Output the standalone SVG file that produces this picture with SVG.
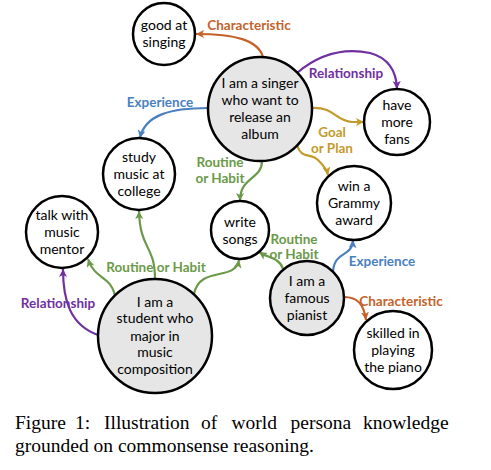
<svg xmlns="http://www.w3.org/2000/svg" width="491" height="470" viewBox="0 0 491 470">
<style>
.node{stroke:#000;stroke-width:2.5;fill:#fff}
.gray{fill:#e6e6e6}
.nt{font-family:Lato,"Liberation Sans",sans-serif;font-size:14px;fill:#000;text-anchor:middle}
.lb{font-family:Lato,"Liberation Sans",sans-serif;font-size:13.5px;font-weight:bold;text-anchor:middle}
.e{fill:none;stroke-width:2.2}
.or{stroke:#c5622a}.pu{stroke:#7030a0}.bl{stroke:#4a7fc0}.go{stroke:#c49a2a}.gr{stroke:#6a9a48}
.cap{font-family:"Liberation Serif","Times New Roman",serif;font-size:19.5px;fill:#000}
</style>
<defs>
<marker id="aor" markerUnits="userSpaceOnUse" markerWidth="10" markerHeight="10" refX="8" refY="4" orient="auto"><path d="M0,0 L8,4 L0,8 L2,4 z" fill="#c5622a"/></marker>
<marker id="apu" markerUnits="userSpaceOnUse" markerWidth="10" markerHeight="10" refX="8" refY="4" orient="auto"><path d="M0,0 L8,4 L0,8 L2,4 z" fill="#7030a0"/></marker>
<marker id="abl" markerUnits="userSpaceOnUse" markerWidth="10" markerHeight="10" refX="8" refY="4" orient="auto"><path d="M0,0 L8,4 L0,8 L2,4 z" fill="#4a7fc0"/></marker>
<marker id="ago" markerUnits="userSpaceOnUse" markerWidth="10" markerHeight="10" refX="8" refY="4" orient="auto"><path d="M0,0 L8,4 L0,8 L2,4 z" fill="#c49a2a"/></marker>
<marker id="agr" markerUnits="userSpaceOnUse" markerWidth="10" markerHeight="10" refX="8" refY="4" orient="auto"><path d="M0,0 L8,4 L0,8 L2,4 z" fill="#6a9a48"/></marker>
</defs>
<g id="connectors">
<path class="e or" d="M263,57 C258,40 235,34 196,34" marker-end="url(#aor)"/>
<path class="e pu" d="M297,73 Q330,45 370,53 Q396,60 397,89" marker-end="url(#apu)"/>
<path class="e go" d="M312,108 C335,107 335,121 352,122 L364,122" marker-end="url(#ago)"/>
<path class="e go" d="M297,145 C302,160 310,152 318,160 C324,166 327,170 328,175" marker-end="url(#ago)"/>
<path class="e bl" d="M208,108 C170,108 145,115 140,138" marker-end="url(#abl)"/>
<path class="e gr" d="M262,161 C262,180 240,176 240,201" marker-end="url(#agr)"/>
<path class="e gr" d="M155,279 C155,245 140,250 139,211" marker-end="url(#agr)"/>
<path class="e gr" d="M115,295 C110,275 95,280 88,259" marker-end="url(#agr)"/>
<path class="e gr" d="M194,294 C200,265 235,282 239,260" marker-end="url(#agr)"/>
<path class="e pu" d="M98,335 C70,325 63,300 63,269" marker-end="url(#apu)"/>
<path class="e gr" d="M283,269 C280,258 268,258 259,252" marker-end="url(#agr)"/>
<path class="e bl" d="M333,271 C335,250 352,258 353,240" marker-end="url(#abl)"/>
<path class="e or" d="M344,297 C358,297 364,305 366,320" marker-end="url(#aor)"/>
<text class="lb" fill="#c5622a" x="249" y="30">Characteristic</text>
<text class="lb" fill="#7030a0" x="346" y="78">Relationship</text>
<text class="lb" fill="#4a7fc0" x="160" y="107">Experience</text>
<text class="lb" fill="#c49a2a" x="332" y="137">Goal</text>
<text class="lb" fill="#c49a2a" x="332" y="153">or Plan</text>
<text class="lb" fill="#6a9a48" x="220" y="167">Routine</text>
<text class="lb" fill="#6a9a48" x="220" y="183">or Habit</text>
<text class="lb" fill="#6a9a48" x="156" y="272">Routine or Habit</text>
<text class="lb" fill="#7030a0" x="58" y="308">Relationship</text>
<text class="lb" fill="#6a9a48" x="294" y="244">Routine</text>
<text class="lb" fill="#6a9a48" x="294" y="259">or Habit</text>
<text class="lb" fill="#4a7fc0" x="382" y="266">Experience</text>
<text class="lb" fill="#c5622a" x="401" y="306">Characteristic</text>
</g>
<g id="n-singing"><circle class="node" cx="164" cy="34" r="31"/><text class="nt" x="164" y="30">good at</text><text class="nt" x="164" y="47">singing</text></g>
<g id="n-singer"><circle class="node gray" cx="260" cy="109" r="52"/><text class="nt" x="260" y="88">I am a singer</text><text class="nt" x="260" y="105">who want to</text><text class="nt" x="260" y="122">release an</text><text class="nt" x="260" y="139">album</text></g>
<g id="n-fans"><circle class="node" cx="397" cy="122" r="33"/><text class="nt" x="397" y="109.5">have</text><text class="nt" x="397" y="126.5">more</text><text class="nt" x="397" y="143.5">fans</text></g>
<g id="n-study"><circle class="node" cx="139" cy="174" r="36"/><text class="nt" x="139" y="161.5">study</text><text class="nt" x="139" y="178.5">music at</text><text class="nt" x="139" y="195.5">college</text></g>
<g id="n-mentor"><circle class="node" cx="62" cy="232" r="36"/><text class="nt" x="62" y="219.5">talk with</text><text class="nt" x="62" y="236.5">music</text><text class="nt" x="62" y="253.5">mentor</text></g>
<g id="n-write"><circle class="node" cx="240" cy="230" r="29"/><text class="nt" x="240" y="226.5">write</text><text class="nt" x="240" y="243.5">songs</text></g>
<g id="n-grammy"><circle class="node" cx="354" cy="203" r="37"/><text class="nt" x="354" y="190.5">win a</text><text class="nt" x="354" y="207.5">Grammy</text><text class="nt" x="354" y="224.5">award</text></g>
<g id="n-student"><circle class="node gray" cx="155" cy="336" r="57"/><text class="nt" x="155" y="306.5">I am a</text><text class="nt" x="155" y="323.3">student who</text><text class="nt" x="155" y="340.5">major in</text><text class="nt" x="155" y="357.3">music</text><text class="nt" x="155" y="374">composition</text></g>
<g id="n-pianist"><circle class="node gray" cx="307" cy="298" r="37"/><text class="nt" x="307" y="285.5">I am a</text><text class="nt" x="307" y="302.5">famous</text><text class="nt" x="307" y="319.5">pianist</text></g>
<g id="n-skilled"><circle class="node" cx="393" cy="350" r="39"/><text class="nt" x="393" y="337.5">skilled in</text><text class="nt" x="393" y="354.5">playing</text><text class="nt" x="393" y="371.5">the piano</text></g>
<g id="caption">
<text class="cap" y="429"><tspan x="15">Figure</tspan><tspan x="75">1:</tspan><tspan x="104">Illustration</tspan><tspan x="201">of</tspan><tspan x="231.5">world</tspan><tspan x="290.5">persona</tspan><tspan x="363">knowledge</tspan></text>
<text class="cap" x="15" y="452">grounded on commonsense reasoning.</text>
</g>
</svg>
